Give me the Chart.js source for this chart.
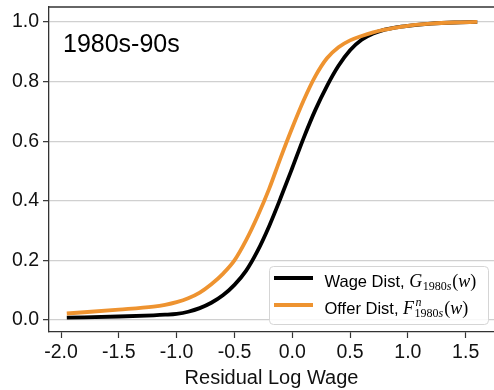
<!DOCTYPE html>
<html>
<head>
<meta charset="utf-8">
<script src="https://cdn.jsdelivr.net/npm/chart.js@4.4.0/dist/chart.umd.min.js"></script>
<style>
  html, body { margin: 0; padding: 0; background: #ffffff; }
  #wrap { width: 494px; height: 390px; }
</style>
</head>
<body>
<div id="wrap"><canvas id="cdf" width="494" height="390"></canvas></div>
<script>
// Residual log wage grid and the two cumulative distributions
const logWage   = [-1.95, -1.5, -1.2, -1.1, -1.0, -0.9, -0.8, -0.7, -0.6, -0.5, -0.4, -0.3, -0.2, -0.1, 0.0, 0.1, 0.2, 0.3, 0.4, 0.5, 0.6, 0.7, 0.8, 0.9, 1.0, 1.2, 1.4, 1.6];
const wageDist  = [0.008, 0.012, 0.016, 0.018, 0.021, 0.028, 0.040, 0.058, 0.083, 0.118, 0.165, 0.232, 0.315, 0.410, 0.510, 0.612, 0.705, 0.785, 0.853, 0.905, 0.940, 0.961, 0.974, 0.982, 0.987, 0.994, 0.998, 1.000];
const offerDist = [0.022, 0.035, 0.045, 0.051, 0.060, 0.073, 0.092, 0.120, 0.155, 0.200, 0.267, 0.348, 0.440, 0.545, 0.645, 0.738, 0.818, 0.878, 0.915, 0.938, 0.953, 0.965, 0.974, 0.981, 0.987, 0.994, 0.998, 1.000];

const xTicks = [-2.0, -1.5, -1.0, -0.5, 0.0, 0.5, 1.0, 1.5];
const yTicks = [0.0, 0.2, 0.4, 0.6, 0.8, 1.0];

const panelLabel = '1980s-90s';
const xTitle = 'Residual Log Wage';
const seriesNames = ['Wage Dist, ', 'Offer Dist, '];

const BLACK = '#000000';
const ORANGE = '#ee9330';
const SANS = '"Liberation Sans", Arial, sans-serif';
const SERIF = '"Liberation Serif", "Times New Roman", serif';

const toPoints = ys => logWage.map((x, i) => ({ x: x, y: ys[i] }));

// Top frame line of the axes box
const frameTop = {
  id: 'frameTop',
  afterDraw(chart) {
    const { ctx, chartArea } = chart;
    ctx.save();
    ctx.strokeStyle = '#333333';
    ctx.lineWidth = 1.3;
    ctx.beginPath();
    ctx.moveTo(chartArea.left, chartArea.top);
    ctx.lineTo(chartArea.right, chartArea.top);
    ctx.stroke();
    ctx.restore();
  }
};

// Panel label in the upper-left corner of the plot
const panelText = {
  id: 'panelText',
  afterDraw(chart) {
    const { ctx, chartArea } = chart;
    ctx.save();
    ctx.fillStyle = '#000';
    ctx.font = '25px ' + SANS;
    ctx.textBaseline = 'alphabetic';
    ctx.textAlign = 'left';
    ctx.fillText(panelLabel, chartArea.left + 14, chartArea.top + 45);
    ctx.restore();
  }
};

// Legend with math-style labels (subscripts / superscripts)
const mathLegend = {
  id: 'mathLegend',
  afterDraw(chart) {
    const { ctx, chartArea } = chart;
    const boxW = 219, boxH = 58;
    const bx = chartArea.right - 6 - boxW + 0.5;
    const by = chartArea.bottom - 8 - boxH + 0.5;
    ctx.save();
    ctx.beginPath();
    ctx.roundRect(bx, by, boxW, boxH, 4);
    ctx.fillStyle = 'rgba(255,255,255,0.85)';
    ctx.fill();
    ctx.strokeStyle = '#d5d5d5';
    ctx.lineWidth = 1;
    ctx.stroke();

    const rows = [
      { color: BLACK, name: seriesNames[0], sym: 'G', sup: null },
      { color: ORANGE, name: seriesNames[1], sym: 'F', sup: 'n' }
    ];
    rows.forEach((r, i) => {
      const cy = by + 11.5 + i * 27;
      ctx.strokeStyle = r.color;
      ctx.lineWidth = 4;
      ctx.lineCap = 'butt';
      ctx.beginPath();
      ctx.moveTo(bx + 4.5, cy);
      ctx.lineTo(bx + 43.5, cy);
      ctx.stroke();

      const base = cy + 8.5;
      let x = bx + 55;
      ctx.fillStyle = '#000';
      ctx.textBaseline = 'alphabetic';
      ctx.textAlign = 'left';
      ctx.font = '16.5px ' + SANS;
      ctx.fillText(r.name, x, base);
      x += ctx.measureText(r.name).width;

      ctx.font = 'italic 18px ' + SERIF;
      ctx.fillText(r.sym, x, base);
      x += ctx.measureText(r.sym).width + 0.5;

      const subX = x;
      if (r.sup) {
        ctx.font = 'italic 12px ' + SERIF;
        ctx.fillText(r.sup, subX + 1, base - 8);
      }
      ctx.font = '12px ' + SERIF;
      ctx.fillText('1980', subX, base + 3.5);
      let sx = subX + ctx.measureText('1980').width;
      ctx.font = 'italic 12px ' + SERIF;
      ctx.fillText('s', sx, base + 3.5);
      sx += ctx.measureText('s').width + 1;

      x = sx;
      ctx.font = '18px ' + SERIF;
      ctx.fillText('(', x, base);
      x += ctx.measureText('(').width;
      ctx.font = 'italic 18px ' + SERIF;
      ctx.fillText('w', x, base);
      x += ctx.measureText('w').width;
      ctx.font = '18px ' + SERIF;
      ctx.fillText(')', x, base);
    });
    ctx.restore();
  }
};

new Chart(document.getElementById('cdf'), {
  type: 'line',
  data: {
    datasets: [
      {
        label: 'Wage Dist',
        data: toPoints(wageDist),
        borderColor: BLACK,
        borderWidth: 3.8,
        pointRadius: 0,
        cubicInterpolationMode: 'monotone',
        fill: false,
        order: 1
      },
      {
        label: 'Offer Dist',
        data: toPoints(offerDist),
        borderColor: ORANGE,
        borderWidth: 3.8,
        pointRadius: 0,
        cubicInterpolationMode: 'monotone',
        fill: false,
        order: 0
      }
    ]
  },
  options: {
    responsive: false,
    devicePixelRatio: 1,
    animation: false,
    events: [],
    layout: { padding: { top: 7, right: 0, bottom: 0, left: 0 } },
    plugins: {
      legend: { display: false },
      tooltip: { enabled: false },
      title: { display: false }
    },
    scales: {
      x: {
        type: 'linear',
        min: -2.104,
        max: 1.745,
        afterBuildTicks(scale) { scale.ticks = xTicks.map(v => ({ value: v })); },
        afterFit(scale) {
          scale.height = 58;
          scale.paddingLeft = 0;
          scale.paddingRight = 0;
        },
        border: { display: true, color: '#333333', width: 1.3 },
        grid: {
          drawOnChartArea: false,
          drawTicks: true,
          tickLength: 6,
          tickColor: '#333333',
          tickWidth: 1.2
        },
        ticks: {
          color: '#111',
          font: { family: SANS, size: 19.5 },
          padding: 3,
          maxRotation: 0,
          autoSkip: false,
          callback: v => v.toFixed(1)
        },
        title: {
          display: true,
          text: xTitle,
          color: '#111',
          font: { family: SANS, size: 20 },
          padding: { top: 0, bottom: 0 }
        }
      },
      y: {
        type: 'linear',
        min: -0.04,
        max: 1.05,
        afterBuildTicks(scale) { scale.ticks = yTicks.map(v => ({ value: v })); },
        afterFit(scale) {
          scale.width = 49;
          scale.paddingTop = 0;
          scale.paddingBottom = 0;
        },
        border: { display: true, color: '#333333', width: 1.3 },
        grid: {
          drawOnChartArea: true,
          color: '#d0d0d0',
          lineWidth: 1.3,
          drawTicks: true,
          tickLength: 6,
          tickColor: '#333333',
          tickWidth: 1.2
        },
        ticks: {
          color: '#111',
          font: { family: SANS, size: 19.5 },
          padding: 4,
          autoSkip: false,
          callback: v => v.toFixed(1)
        }
      }
    }
  },
  plugins: [frameTop, panelText, mathLegend]
});
</script>
</body>
</html>
